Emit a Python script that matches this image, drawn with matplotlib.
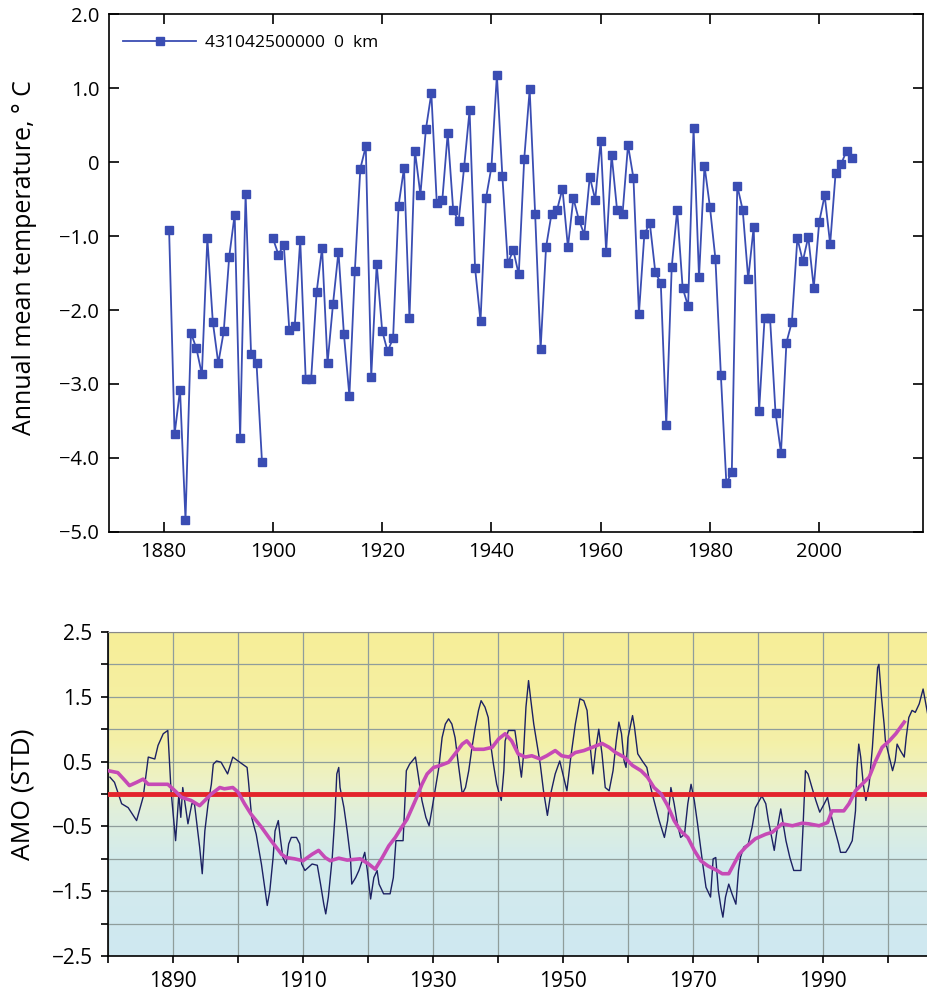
import numpy as np
import matplotlib
matplotlib.use("Agg")
import matplotlib.pyplot as plt
from matplotlib.colors import LinearSegmentedColormap

plt.rcParams["font.family"] = ["Open Sans", "DejaVu Sans"]

# --- top panel: station annual mean temperature (no value for 1899)
temp_years = list(range(1881, 2007))
temp_vals = [
    -0.92, -3.68, -3.08, -4.84, -2.31, -2.52, -2.87, -1.03, -2.16, -2.72,   # 1881-1890
    -2.29, -1.28, -0.71, -3.73, -0.43, -2.59, -2.72, -4.05, np.nan, -1.03,  # 1891-1900
    -1.25, -1.12, -2.27, -2.21, -1.05, -2.93, -2.93, -1.76, -1.16, -2.72,   # 1901-1910
    -1.92, -1.21, -2.33, -3.16, -1.47, -0.09, 0.21, -2.90, -1.38, -2.28,    # 1911-1920
    -2.56, -2.38, -0.59, -0.08, -2.11, 0.15, -0.44, 0.44, 0.93, -0.56,      # 1921-1930
    -0.52, 0.39, -0.65, -0.80, -0.07, 0.70, -1.43, -2.15, -0.49, -0.07,     # 1931-1940
    1.18, -0.19, -1.37, -1.19, -1.52, 0.04, 0.98, -0.70, -2.53, -1.15,      # 1941-1950
    -0.70, -0.65, -0.36, -1.15, -0.49, -0.78, -0.98, -0.20, -0.51, 0.29,    # 1951-1960
    -1.21, 0.10, -0.65, -0.70, 0.23, -0.22, -2.05, -0.97, -0.83, -1.49,     # 1961-1970
    -1.64, -3.56, -1.42, -0.65, -1.70, -1.95, 0.46, -1.56, -0.05, -0.61,    # 1971-1980
    -1.31, -2.88, -4.34, -4.19, -0.32, -0.65, -1.58, -0.88, -3.36, -2.11,   # 1981-1990
    -2.11, -3.39, -3.93, -2.44, -2.16, -1.03, -1.34, -1.01, -1.70, -0.81,   # 1991-2000
    -0.45, -1.11, -0.15, -0.03, 0.15, 0.06,                                 # 2001-2006
]
temp_label = "431042500000  0  km"
temp_yticks = [-5, -4, -3, -2, -1, 0, 1, 2]
temp_yticklabels = ["\u22125.0", "\u22124.0", "\u22123.0", "\u22122.0", "\u22121.0", "0", "1.0", "2.0"]

# --- bottom panel: AMO index (thin line) and its running mean (thick line)
amo_years = [
    1880.3, 1881.0, 1882.1, 1883.1, 1884.4, 1885.4, 1885.6, 1886.2, 1887.2, 1887.7,
    1888.5, 1889.2, 1889.7, 1890.4, 1890.9, 1891.2, 1891.5, 1892.3, 1892.9, 1893.3,
    1894.1, 1894.5, 1894.9, 1895.4, 1895.9, 1896.2, 1896.7, 1897.4, 1898.4, 1899.2,
    1900.0, 1901.4, 1901.6, 1902.1, 1902.8, 1903.6, 1904.1, 1904.5, 1904.9, 1905.4,
    1905.7, 1906.2, 1906.5, 1906.9, 1907.4, 1907.8, 1908.2, 1909.0, 1909.5, 1909.8,
    1910.3, 1911.4, 1912.2, 1912.7, 1913.2, 1913.5, 1913.9, 1914.5, 1914.9, 1915.2,
    1915.5, 1915.7, 1916.3, 1916.8, 1917.3, 1917.5, 1918.1, 1918.6, 1919.1, 1919.5,
    1919.9, 1920.4, 1920.9, 1921.4, 1921.7, 1922.4, 1923.4, 1923.9, 1924.3, 1925.4,
    1925.9, 1926.4, 1926.8, 1927.3, 1927.7, 1928.3, 1928.9, 1929.4, 1929.8, 1930.4,
    1930.9, 1931.4, 1931.9, 1932.4, 1932.9, 1933.4, 1933.9, 1934.5, 1935.0, 1935.5,
    1936.0, 1936.5, 1937.0, 1937.4, 1938.0, 1938.5, 1938.8, 1939.3, 1939.8, 1940.2,
    1940.5, 1940.9, 1941.1, 1941.6, 1942.6, 1943.1, 1943.6, 1943.9, 1944.3, 1944.7,
    1945.0, 1945.5, 1946.0, 1946.5, 1947.0, 1947.6, 1948.1, 1948.8, 1949.5, 1950.1,
    1950.6, 1951.2, 1951.9, 1952.6, 1953.2, 1953.7, 1954.1, 1954.6, 1955.0, 1955.5,
    1956.0, 1956.5, 1957.1, 1957.7, 1958.2, 1958.6, 1959.0, 1959.4, 1959.7, 1960.0,
    1960.7, 1961.0, 1961.5, 1962.2, 1962.9, 1963.5, 1964.0, 1964.8, 1965.6, 1966.1,
    1966.6, 1967.1, 1967.6, 1968.1, 1968.7, 1969.2, 1969.7, 1970.2, 1970.7, 1971.5,
    1972.0, 1972.7, 1973.1, 1973.5, 1973.9, 1974.3, 1974.6, 1975.0, 1975.5, 1976.0,
    1976.6, 1977.0, 1977.3, 1977.8, 1978.5, 1979.1, 1979.6, 1980.6, 1981.2, 1981.6,
    1982.1, 1982.5, 1983.0, 1983.5, 1983.8, 1984.3, 1984.9, 1985.5, 1986.6, 1986.9,
    1987.3, 1987.7, 1988.3, 1988.9, 1989.5, 1990.2, 1990.7, 1991.2, 1991.7, 1992.4,
    1992.7, 1993.5, 1994.0, 1994.5, 1995.0, 1995.2, 1995.5, 1995.8, 1996.2, 1996.6,
    1997.1, 1997.6, 1998.0, 1998.4, 1998.6, 1999.0, 1999.4, 1999.6, 2000.2, 2000.7,
    2001.1, 2001.4, 2001.9, 2002.5, 2002.8, 2003.2, 2003.7, 2004.2, 2004.8, 2005.4,
    2005.9, 2006.3,
]
amo_vals = [
    0.26, 0.18, -0.15, -0.21, -0.41, -0.05, 0.10, 0.57, 0.54, 0.75,
    0.93, 0.98, 0.05, -0.72, 0.00, -0.36, 0.10, -0.46, -0.15, -0.15,
    -0.82, -1.23, -0.57, -0.15, 0.15, 0.46, 0.51, 0.49, 0.31, 0.57,
    0.51, 0.41, 0.21, -0.36, -0.62, -1.08, -1.44, -1.72, -1.49, -0.98,
    -0.57, -0.41, -0.67, -0.98, -1.08, -0.77, -0.67, -0.67, -0.77, -1.08,
    -1.18, -1.08, -1.10, -1.39, -1.70, -1.85, -1.59, -0.98, -0.36, 0.31,
    0.41, 0.10, -0.21, -0.57, -0.98, -1.39, -1.29, -1.18, -1.03, -0.90,
    -1.18, -1.62, -1.29, -1.18, -1.39, -1.54, -1.54, -1.29, -0.72, -0.72,
    0.36, 0.46, 0.51, 0.57, 0.31, -0.10, -0.36, -0.49, -0.26, 0.10,
    0.41, 0.87, 1.08, 1.16, 1.08, 0.87, 0.46, 0.00, 0.10, 0.36,
    0.72, 1.03, 1.29, 1.44, 1.34, 1.18, 0.82, 0.46, 0.15, 0.00,
    -0.10, 0.36, 0.82, 0.98, 0.98, 0.62, 0.26, 0.57, 1.34, 1.75,
    1.49, 1.08, 0.77, 0.46, 0.05, -0.33, 0.00, 0.31, 0.51, 0.26,
    0.05, 0.57, 1.08, 1.47, 1.44, 1.29, 0.82, 0.31, 0.67, 1.00,
    0.62, 0.10, 0.05, 0.36, 0.82, 1.11, 0.93, 0.51, 0.41, 0.87,
    1.21, 1.03, 0.62, 0.51, 0.41, 0.10, -0.10, -0.41, -0.67, -0.41,
    0.10, -0.15, -0.46, -0.67, -0.62, -0.15, 0.15, -0.10, -0.46, -1.08,
    -1.44, -1.59, -1.00, -0.98, -1.49, -1.75, -1.90, -1.59, -1.39, -1.54,
    -1.70, -1.18, -0.98, -0.82, -0.77, -0.51, -0.21, -0.03, -0.15, -0.41,
    -0.67, -0.87, -0.51, -0.23, -0.41, -0.72, -0.98, -1.18, -1.18, -0.57,
    0.36, 0.31, 0.10, -0.10, -0.28, -0.15, -0.05, -0.31, -0.51, -0.77,
    -0.90, -0.90, -0.82, -0.72, -0.26, 0.36, 0.77, 0.57, 0.15, -0.10,
    0.15, 0.72, 1.34, 1.95, 2.00, 1.49, 1.08, 0.82, 0.57, 0.36,
    0.51, 0.77, 0.67, 0.57, 0.87, 1.18, 1.29, 1.26, 1.39, 1.62,
    1.34, 1.13,
]
smooth_years = [
    1880.0, 1881.5, 1882.6, 1883.3, 1884.4, 1885.4, 1886.2, 1887.4, 1889.2, 1890.3,
    1891.3, 1892.8, 1894.1, 1894.9, 1895.9, 1897.2, 1897.9, 1899.2, 1900.0, 1901.0,
    1902.0, 1903.6, 1905.1, 1906.7, 1907.4, 1908.7, 1910.0, 1911.4, 1912.4, 1913.4,
    1914.2, 1915.5, 1916.8, 1918.8, 1920.1, 1921.1, 1922.2, 1923.2, 1924.2, 1925.2,
    1926.0, 1926.8, 1927.5, 1928.3, 1929.1, 1930.1, 1931.1, 1932.4, 1933.4, 1934.5,
    1935.2, 1936.3, 1937.8, 1939.1, 1940.1, 1941.1, 1942.1, 1943.1, 1944.2, 1945.2,
    1946.5, 1947.5, 1948.8, 1949.8, 1950.9, 1951.9, 1953.2, 1954.5, 1956.0, 1957.1,
    1958.1, 1959.4, 1960.7, 1962.0, 1963.0, 1964.0, 1965.1, 1966.1, 1967.1, 1968.1,
    1969.2, 1970.2, 1971.2, 1972.3, 1973.7, 1974.5, 1975.5, 1976.3, 1977.1, 1978.1,
    1979.6, 1981.2, 1982.2, 1983.7, 1985.3, 1986.8, 1987.8, 1989.4, 1990.7, 1991.4,
    1993.2, 1994.0, 1995.0, 1996.0, 1997.1, 1998.1, 1999.1, 2000.2, 2001.2, 2002.5,
]
smooth_vals = [
    0.36, 0.33, 0.21, 0.13, 0.18, 0.23, 0.15, 0.15, 0.15, 0.05,
    -0.05, -0.10, -0.18, -0.10, 0.00, 0.10, 0.08, 0.10, 0.03, -0.15,
    -0.31, -0.51, -0.72, -0.93, -0.98, -1.00, -1.03, -0.93, -0.87, -0.98,
    -1.03, -0.99, -1.02, -1.00, -1.08, -1.16, -0.98, -0.80, -0.67, -0.51,
    -0.39, -0.21, -0.05, 0.15, 0.31, 0.41, 0.44, 0.49, 0.62, 0.77,
    0.82, 0.69, 0.69, 0.72, 0.85, 0.93, 0.82, 0.62, 0.57, 0.59,
    0.54, 0.59, 0.67, 0.59, 0.57, 0.64, 0.67, 0.72, 0.78, 0.72,
    0.64, 0.57, 0.44, 0.36, 0.26, 0.10, 0.00, -0.18, -0.41, -0.57,
    -0.67, -0.87, -1.03, -1.11, -1.18, -1.23, -1.23, -1.08, -0.93, -0.82,
    -0.69, -0.62, -0.59, -0.46, -0.49, -0.45, -0.46, -0.49, -0.44, -0.26,
    -0.26, -0.15, 0.05, 0.15, 0.26, 0.51, 0.72, 0.82, 0.93, 1.11,
]
amo_xticks = list(range(1880, 2006, 10))
amo_xticklabels = ["", "1890", "", "1910", "", "1930", "", "1950", "", "1970", "", "1990", ""]
amo_yticks = [-2.5, -2.0, -1.5, -1.0, -0.5, 0.0, 0.5, 1.0, 1.5, 2.0, 2.5]
amo_yticklabels = ["\u22122.5", "", "\u22121.5", "", "\u22120.5", "", "0.5", "", "1.5", "", "2.5"]

fig = plt.figure(figsize=(9.27, 9.94), dpi=100)

# top chart
ax1 = fig.add_axes([0.1176, 0.4648, 0.8781, 0.5211])
ax1.plot(temp_years, temp_vals, color="#3a4db3", lw=1.3, marker="s", ms=5.2,
         label=temp_label)
ax1.set_xlim(1870, 2019)
ax1.set_ylim(-5, 2)
ax1.set_xticks(range(1880, 2001, 20))
ax1.set_yticks(temp_yticks)
ax1.set_yticklabels(temp_yticklabels)
ax1.tick_params(direction="in", length=7, width=1.2, top=True, right=True,
                labelsize=14.5, pad=7)
for s in ax1.spines.values():
    s.set_linewidth(1.2)
ax1.set_ylabel("Annual mean temperature, \u00b0 C", fontsize=18)
ax1.yaxis.set_label_coords(-0.088, 0.53)
ax1.legend(loc="upper left", bbox_to_anchor=(-0.008, 1.0), frameon=False,
           fontsize=12.5, handlelength=4.2, handletextpad=0.5, borderaxespad=0.8)

# bottom chart
ax2 = fig.add_axes([0.1165, 0.0382, 0.8835, 0.3260])
ax2.set_xlim(1880, 2006)
ax2.set_ylim(-2.5, 2.5)

# yellow to light blue background
bg_cmap = LinearSegmentedColormap.from_list("amo_bg", [
    (0.0, "#cfe8f1"), (0.3, "#d3ebec"), (0.44, "#e0efdc"),
    (0.54, "#edf2c6"), (0.66, "#f4f0a8"), (1.0, "#f7ee98")])
grad = np.linspace(-2.5, 2.5, 300).reshape(-1, 1)
ax2.imshow(grad, cmap=bg_cmap, vmin=-2.5, vmax=2.5, origin="lower", aspect="auto",
           extent=[1880, 2006, -2.5, 2.5], zorder=0)

ax2.set_axisbelow(True)
ax2.grid(True, color="#8f9d9b", lw=0.9)
ax2.plot(amo_years, amo_vals, color="#1c2163", lw=1.0, zorder=2)
ax2.axhline(0, color="#e3242b", lw=3.5, zorder=3)
ax2.plot(smooth_years, smooth_vals, color="#c64ab6", lw=2.6, zorder=4)

ax2.set_xticks(amo_xticks)
ax2.set_xticklabels(amo_xticklabels)
ax2.set_yticks(amo_yticks)
ax2.set_yticklabels(amo_yticklabels)
ax2.tick_params(direction="out", length=5, width=1.2, labelsize=15, pad=6)
ax2.spines["right"].set_visible(False)
ax2.spines["top"].set_color("#888888")
ax2.spines["left"].set_linewidth(1.2)
ax2.spines["bottom"].set_linewidth(1.2)
ax2.set_ylabel("AMO (STD)", fontsize=19)
ax2.yaxis.set_label_coords(-0.088, 0.5)

fig.savefig("out.png", dpi=100)
